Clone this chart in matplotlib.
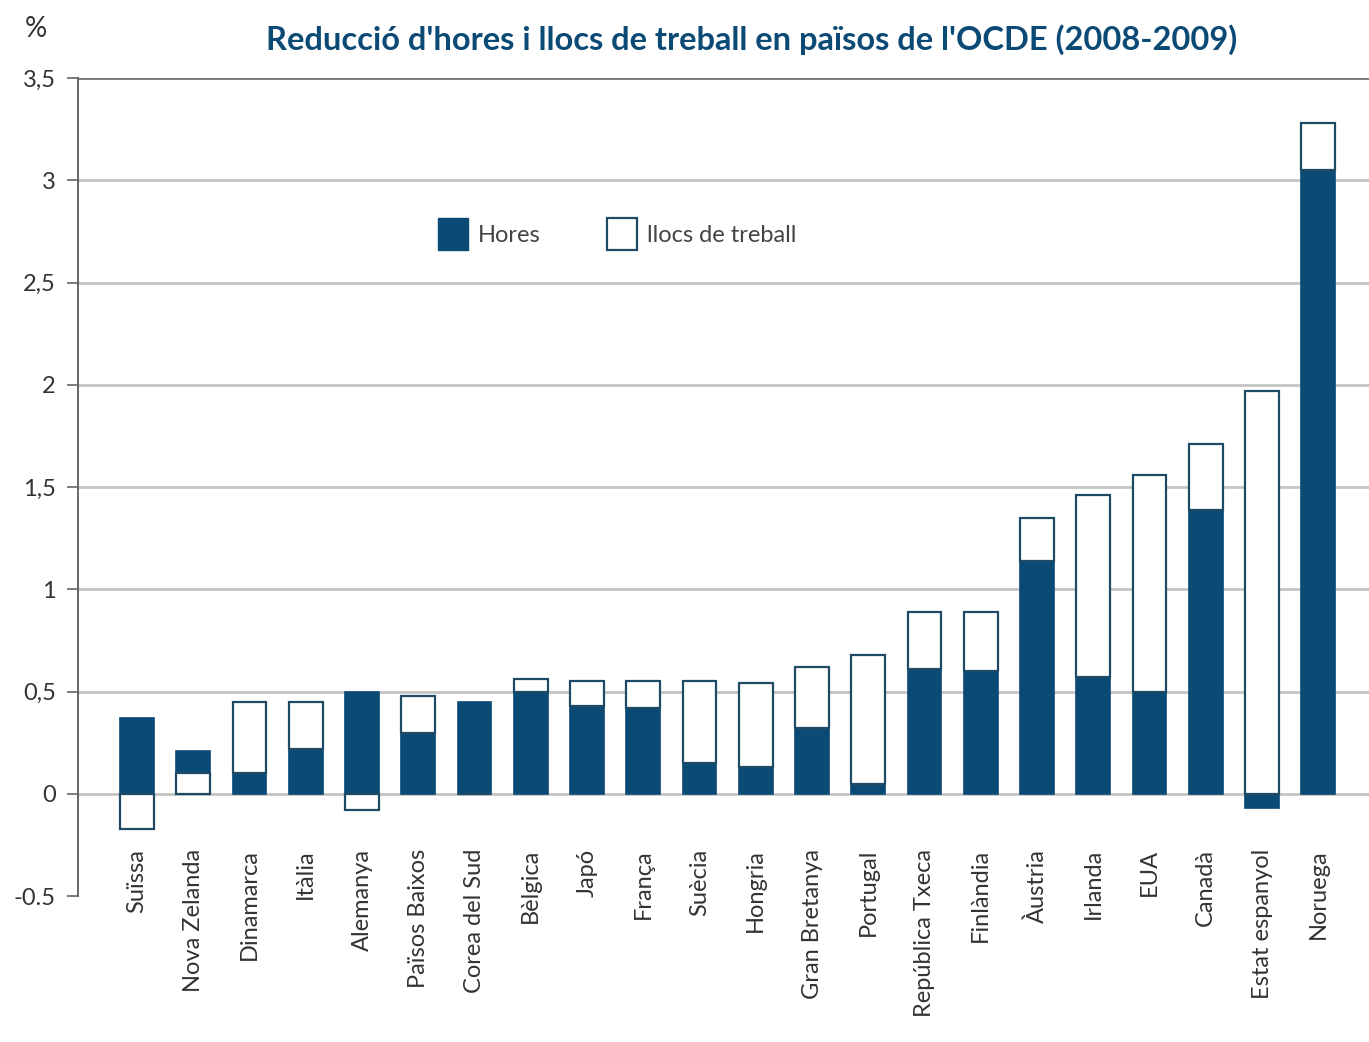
import numpy as np
import matplotlib
matplotlib.use("Agg")
import matplotlib.pyplot as plt
from matplotlib.patches import Patch

paisos = ["Suïssa", "Nova Zelanda", "Dinamarca", "Itàlia", "Alemanya",
          "Països Baixos", "Corea del Sud", "Bèlgica", "Japó", "França",
          "Suècia", "Hongria", "Gran Bretanya", "Portugal", "República Txeca",
          "Finlàndia", "Àustria", "Irlanda", "EUA", "Canadà",
          "Estat espanyol", "Noruega"]
hores = [0.37, 0.11, 0.10, 0.22, 0.50, 0.30, 0.45, 0.50, 0.43, 0.42,
         0.15, 0.13, 0.32, 0.05, 0.61, 0.60, 1.14, 0.57, 0.50, 1.39,
         -0.07, 3.05]
llocs = [-0.17, 0.10, 0.35, 0.23, -0.08, 0.18, 0.0, 0.06, 0.12, 0.13,
         0.40, 0.41, 0.30, 0.63, 0.28, 0.29, 0.21, 0.89, 1.06, 0.32,
         1.97, 0.23]
# countries where the jobs segment sits below the hours segment
llocs_a_baix = ["Nova Zelanda"]

yticks = [-0.5, 0, 0.5, 1, 1.5, 2, 2.5, 3, 3.5]
ytick_labels = ["-0.5", "0", "0,5", "1", "1,5", "2", "2,5", "3", "3,5"]

navy = "#0b4a75"
plt.rcParams["font.family"] = ["Lato", "DejaVu Sans"]

fig = plt.figure(figsize=(13.69, 10.42), dpi=100)
ax = fig.add_axes([0.057, 0.14, 0.943, 0.785])

x = np.arange(len(paisos))
w = 0.6
h = np.array(hores)
l = np.array(llocs)

h_bottom = np.zeros(len(x))
l_bottom = np.where((h > 0) & (l > 0), h, 0.0)
for i, p in enumerate(paisos):
    if p in llocs_a_baix:
        h_bottom[i] = l[i]
        l_bottom[i] = 0.0

ax.bar(x, h, w, bottom=h_bottom, color=navy, edgecolor=navy, linewidth=1.2, zorder=3)
ax.bar(x, l, w, bottom=l_bottom, color="white", edgecolor="#1f4a66", linewidth=1.6, zorder=3)

ax.set_xlim(-1.05, 21.9)
ax.set_ylim(-0.5, 3.5)
ax.set_yticks(yticks)
ax.set_yticklabels(ytick_labels, fontsize=17, color="#333333")
for v in yticks[1:]:
    ax.axhline(v, color="#c4c4c4" if v < 3.5 else "#777777", linewidth=2, zorder=1)

ax.set_xticks(x)
ax.set_xticklabels(paisos, rotation=90, fontsize=17, color="#333333", va="top")
ax.tick_params(axis="x", length=0, pad=-34)
ax.tick_params(axis="y", length=8, width=1.2, color="#666666", pad=8)

for s in ["top", "right", "bottom"]:
    ax.spines[s].set_visible(False)
ax.spines["left"].set_color("#666666")
ax.spines["left"].set_linewidth(1.4)

handles = [Patch(facecolor=navy, edgecolor=navy, label="Hores"),
           Patch(facecolor="white", edgecolor="#1f4a66", linewidth=1.6, label="llocs de treball")]
ax.legend(handles=handles, loc="upper left", bbox_to_anchor=(0.262, 0.855), ncol=2,
          frameon=False, fontsize=17, handlelength=1.3, handleheight=1.7,
          handletextpad=0.4, columnspacing=2.8, labelcolor="#444444")

fig.text(0.549, 0.962, "Reducció d'hores i llocs de treball en països de l'OCDE (2008-2009)",
         ha="center", va="center", fontsize=23.5, fontweight="bold", color="#0b4a75")
fig.text(0.018, 0.972, "%", ha="left", va="center", fontsize=20, color="#333333")

fig.savefig("out.png", dpi=100)
